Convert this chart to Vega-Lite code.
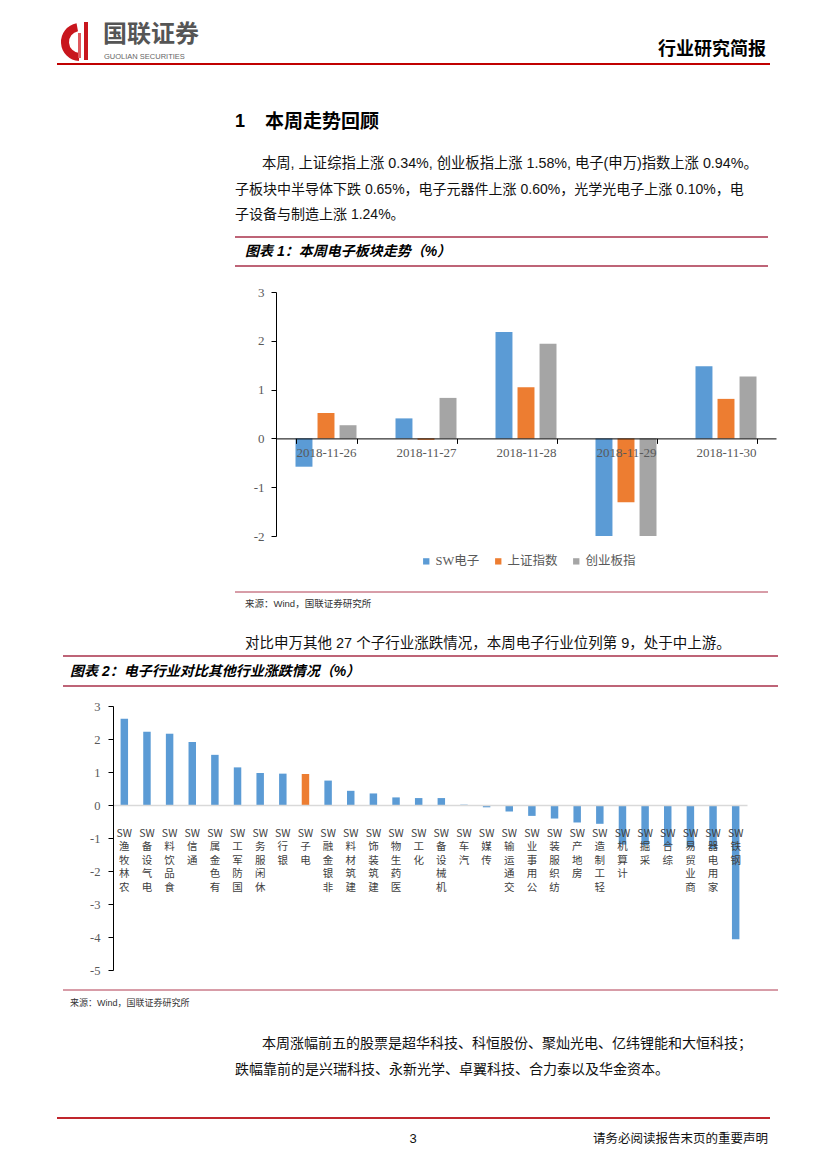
{
  "$schema": "https://vega.github.io/schema/vega-lite/v6.json",
  "padding": 0,
  "background": "white",
  "bounds": "flush",
  "spacing": 0,
  "config": {"view": {"stroke": null}, "axis": {"grid": false}},
  "vconcat": [
    {
      "width": 827, "height": 292,
      "data": {"values": [{"k": 1}]},
      "layer": [
        {"mark": {"type": "rule", "color": "#C00000", "strokeWidth": 2},
         "encoding": {"x": {"datum": 57, "type": "quantitative", "scale": {"domain": [0, 827], "nice": false, "zero": false}, "axis": null}, "x2": {"datum": 770},
                      "y": {"datum": 64, "type": "quantitative", "scale": {"domain": [0, 292], "nice": false, "zero": false, "reverse": true}, "axis": null}}},
        {"mark": {"type": "arc", "radius": 19, "radius2": 11, "theta": 3.2, "theta2": 6.1, "color": "#C8161D"},
         "encoding": {"x": {"datum": 80, "type": "quantitative", "scale": {"domain": [0, 827], "nice": false, "zero": false}, "axis": null},
                      "y": {"datum": 42, "type": "quantitative", "scale": {"domain": [0, 292], "nice": false, "zero": false, "reverse": true}, "axis": null}}},
        {"mark": {"type": "rect", "color": "#C8161D"},
         "encoding": {"x": {"datum": 84, "type": "quantitative", "scale": {"domain": [0, 827], "nice": false, "zero": false}, "axis": null}, "x2": {"datum": 88},
                      "y": {"datum": 22, "type": "quantitative", "scale": {"domain": [0, 292], "nice": false, "zero": false, "reverse": true}, "axis": null}, "y2": {"datum": 60}}},
        {"mark": {"type": "rect", "color": "#E05A5F"},
         "encoding": {"x": {"datum": 78, "type": "quantitative", "scale": {"domain": [0, 827], "nice": false, "zero": false}, "axis": null}, "x2": {"datum": 81},
                      "y": {"datum": 33, "type": "quantitative", "scale": {"domain": [0, 292], "nice": false, "zero": false, "reverse": true}, "axis": null}, "y2": {"datum": 58}}},
        {"data": {"values": [{"t": "国联证券"}]},
         "mark": {"type": "text", "align": "left", "baseline": "middle", "font": "'Noto Sans CJK SC', sans-serif", "fontSize": 24, "fontWeight": "bold", "color": "#555555"},
         "encoding": {"x": {"datum": 103, "type": "quantitative", "scale": {"domain": [0, 827], "nice": false, "zero": false}, "axis": null},
                      "y": {"datum": 35, "type": "quantitative", "scale": {"domain": [0, 292], "nice": false, "zero": false, "reverse": true}, "axis": null}, "text": {"field": "t"}}},
        {"data": {"values": [{"t": "GUOLIAN SECURITIES"}]},
         "mark": {"type": "text", "align": "left", "baseline": "middle", "font": "'Liberation Sans', sans-serif", "fontSize": 7.5, "color": "#666666"},
         "encoding": {"x": {"datum": 104, "type": "quantitative", "scale": {"domain": [0, 827], "nice": false, "zero": false}, "axis": null},
                      "y": {"datum": 57, "type": "quantitative", "scale": {"domain": [0, 292], "nice": false, "zero": false, "reverse": true}, "axis": null}, "text": {"field": "t"}}},
        {"data": {"values": [{"t": "行业研究简报"}]},
         "mark": {"type": "text", "align": "right", "baseline": "middle", "font": "'Noto Sans CJK SC', sans-serif", "fontSize": 18, "fontWeight": "bold", "color": "#000000"},
         "encoding": {"x": {"datum": 766, "type": "quantitative", "scale": {"domain": [0, 827], "nice": false, "zero": false}, "axis": null},
                      "y": {"datum": 50, "type": "quantitative", "scale": {"domain": [0, 292], "nice": false, "zero": false, "reverse": true}, "axis": null}, "text": {"field": "t"}}},
        {"data": {"values": [{"t": "1"}]},
         "mark": {"type": "text", "align": "left", "baseline": "middle", "font": "'Liberation Sans', sans-serif", "fontSize": 18, "fontWeight": "bold", "color": "#000000"},
         "encoding": {"x": {"datum": 235, "type": "quantitative", "scale": {"domain": [0, 827], "nice": false, "zero": false}, "axis": null},
                      "y": {"datum": 122, "type": "quantitative", "scale": {"domain": [0, 292], "nice": false, "zero": false, "reverse": true}, "axis": null}, "text": {"field": "t"}}},
        {"data": {"values": [{"t": "本周走势回顾"}]},
         "mark": {"type": "text", "align": "left", "baseline": "middle", "font": "'Noto Sans CJK SC', sans-serif", "fontSize": 19, "fontWeight": "bold", "color": "#000000"},
         "encoding": {"x": {"datum": 265, "type": "quantitative", "scale": {"domain": [0, 827], "nice": false, "zero": false}, "axis": null},
                      "y": {"datum": 122, "type": "quantitative", "scale": {"domain": [0, 292], "nice": false, "zero": false, "reverse": true}, "axis": null}, "text": {"field": "t"}}},
        {"data": {"values": [{"t": "本周, 上证综指上涨 0.34%, 创业板指上涨 1.58%, 电子(申万)指数上涨 0.94%。"}]},
         "mark": {"type": "text", "align": "left", "baseline": "middle", "font": "'Liberation Sans', 'Noto Sans CJK SC', sans-serif", "fontSize": 14.3, "color": "#111111"},
         "encoding": {"x": {"datum": 262, "type": "quantitative", "scale": {"domain": [0, 827], "nice": false, "zero": false}, "axis": null},
                      "y": {"datum": 164, "type": "quantitative", "scale": {"domain": [0, 292], "nice": false, "zero": false, "reverse": true}, "axis": null}, "text": {"field": "t"}}},
        {"data": {"values": [{"t": "子板块中半导体下跌 0.65%，电子元器件上涨 0.60%，光学光电子上涨 0.10%，电"}]},
         "mark": {"type": "text", "align": "left", "baseline": "middle", "font": "'Liberation Sans', 'Noto Sans CJK SC', sans-serif", "fontSize": 14, "color": "#111111"},
         "encoding": {"x": {"datum": 235, "type": "quantitative", "scale": {"domain": [0, 827], "nice": false, "zero": false}, "axis": null},
                      "y": {"datum": 190, "type": "quantitative", "scale": {"domain": [0, 292], "nice": false, "zero": false, "reverse": true}, "axis": null}, "text": {"field": "t"}}},
        {"data": {"values": [{"t": "子设备与制造上涨 1.24%。"}]},
         "mark": {"type": "text", "align": "left", "baseline": "middle", "font": "'Liberation Sans', 'Noto Sans CJK SC', sans-serif", "fontSize": 14, "color": "#111111"},
         "encoding": {"x": {"datum": 235, "type": "quantitative", "scale": {"domain": [0, 827], "nice": false, "zero": false}, "axis": null},
                      "y": {"datum": 215, "type": "quantitative", "scale": {"domain": [0, 292], "nice": false, "zero": false, "reverse": true}, "axis": null}, "text": {"field": "t"}}},
        {"mark": {"type": "rule", "color": "#A8304A", "strokeWidth": 1.3},
         "encoding": {"x": {"datum": 235, "type": "quantitative", "scale": {"domain": [0, 827], "nice": false, "zero": false}, "axis": null}, "x2": {"datum": 768},
                      "y": {"datum": 237, "type": "quantitative", "scale": {"domain": [0, 292], "nice": false, "zero": false, "reverse": true}, "axis": null}}},
        {"mark": {"type": "rule", "color": "#A8304A", "strokeWidth": 1.3},
         "encoding": {"x": {"datum": 235, "type": "quantitative", "scale": {"domain": [0, 827], "nice": false, "zero": false}, "axis": null}, "x2": {"datum": 768},
                      "y": {"datum": 266, "type": "quantitative", "scale": {"domain": [0, 292], "nice": false, "zero": false, "reverse": true}, "axis": null}}},
        {"data": {"values": [{"t": "图表 1：本周电子板块走势（%）"}]},
         "mark": {"type": "text", "align": "left", "baseline": "middle", "font": "'Liberation Sans', 'Noto Sans CJK SC', sans-serif", "fontSize": 14, "fontWeight": "bold", "fontStyle": "italic", "color": "#000000"},
         "encoding": {"x": {"datum": 245, "type": "quantitative", "scale": {"domain": [0, 827], "nice": false, "zero": false}, "axis": null},
                      "y": {"datum": 252, "type": "quantitative", "scale": {"domain": [0, 292], "nice": false, "zero": false, "reverse": true}, "axis": null}, "text": {"field": "t"}}}
      ]
    },
    {
      "width": 776, "height": 244,
      "data": {"values": [
        {"date": "2018-11-26", "series": "SW电子", "value": -0.58},
        {"date": "2018-11-26", "series": "上证指数", "value": 0.52},
        {"date": "2018-11-26", "series": "创业板指", "value": 0.27},
        {"date": "2018-11-27", "series": "SW电子", "value": 0.41},
        {"date": "2018-11-27", "series": "上证指数", "value": -0.03},
        {"date": "2018-11-27", "series": "创业板指", "value": 0.83},
        {"date": "2018-11-28", "series": "SW电子", "value": 2.18},
        {"date": "2018-11-28", "series": "上证指数", "value": 1.05},
        {"date": "2018-11-28", "series": "创业板指", "value": 1.94},
        {"date": "2018-11-29", "series": "SW电子", "value": -2.5},
        {"date": "2018-11-29", "series": "上证指数", "value": -1.31},
        {"date": "2018-11-29", "series": "创业板指", "value": -2.7},
        {"date": "2018-11-30", "series": "SW电子", "value": 1.48},
        {"date": "2018-11-30", "series": "上证指数", "value": 0.81},
        {"date": "2018-11-30", "series": "创业板指", "value": 1.27}
      ]},
      "mark": {"type": "bar", "clip": true},
      "encoding": {
        "x": {"field": "date", "type": "nominal", "sort": null, "title": null,
              "scale": {"range": [276, 776], "paddingInner": 0.39, "paddingOuter": 0.195},
              "axis": {"orient": "bottom", "offset": -97.6, "labelAngle": 0, "labelFont": "'Liberation Serif', serif", "labelFontSize": 13, "labelColor": "#595959", "labelPadding": 3, "labelBaseline": "top", "tickSize": 5, "tickColor": "#000000", "tickBand": "extent", "domainColor": "#000000", "domainWidth": 1, "zindex": 1}},
        "xOffset": {"field": "series", "type": "nominal", "sort": ["SW电子", "上证指数", "创业板指"], "scale": {"paddingInner": 0.23, "paddingOuter": 0}},
        "y": {"field": "value", "type": "quantitative", "title": null,
              "scale": {"domain": [-2, 3], "nice": false, "zero": false},
              "axis": {"values": [-2, -1, 0, 1, 2, 3], "offset": -276, "labelExpr": "toString(datum.value)", "labelFont": "'Liberation Serif', serif", "labelFontSize": 13, "labelColor": "#595959", "labelPadding": 7, "tickSize": 5, "tickColor": "#000000", "domainColor": "#000000", "grid": false, "zindex": 1}},
        "color": {"field": "series", "type": "nominal", "sort": ["SW电子", "上证指数", "创业板指"],
                  "scale": {"domain": ["SW电子", "上证指数", "创业板指"], "range": ["#5B9BD5", "#ED7D31", "#A5A5A5"]},
                  "legend": {"title": null, "orient": "none", "legendX": 420, "legendY": 555, "direction": "horizontal", "symbolType": "square", "symbolSize": 40, "symbolStrokeWidth": 0, "labelFont": "'Liberation Serif', 'Noto Sans CJK SC', serif", "labelFontSize": 12.5, "labelColor": "#595959", "columnPadding": 12, "labelOffset": 3, "padding": 0}}
      }
    },
    {
      "width": 827, "height": 170,
      "data": {"values": [{"k": 1}]},
      "layer": [
        {"mark": {"type": "rule", "color": "#B03A50", "strokeWidth": 1},
         "encoding": {"x": {"datum": 235, "type": "quantitative", "scale": {"domain": [0, 827], "nice": false, "zero": false}, "axis": null}, "x2": {"datum": 768},
                      "y": {"datum": 592, "type": "quantitative", "scale": {"domain": [536, 706], "nice": false, "zero": false, "reverse": true}, "axis": null}}},
        {"data": {"values": [{"t": "来源：Wind，国联证券研究所"}]},
         "mark": {"type": "text", "align": "left", "baseline": "middle", "font": "'Liberation Sans', 'Noto Sans CJK SC', sans-serif", "fontSize": 9.5, "color": "#333333"},
         "encoding": {"x": {"datum": 245, "type": "quantitative", "scale": {"domain": [0, 827], "nice": false, "zero": false}, "axis": null},
                      "y": {"datum": 604, "type": "quantitative", "scale": {"domain": [536, 706], "nice": false, "zero": false, "reverse": true}, "axis": null}, "text": {"field": "t"}}},
        {"data": {"values": [{"t": "对比申万其他 27 个子行业涨跌情况，本周电子行业位列第 9，处于中上游。"}]},
         "mark": {"type": "text", "align": "left", "baseline": "middle", "font": "'Liberation Sans', 'Noto Sans CJK SC', sans-serif", "fontSize": 14.5, "color": "#111111"},
         "encoding": {"x": {"datum": 245, "type": "quantitative", "scale": {"domain": [0, 827], "nice": false, "zero": false}, "axis": null},
                      "y": {"datum": 644, "type": "quantitative", "scale": {"domain": [536, 706], "nice": false, "zero": false, "reverse": true}, "axis": null}, "text": {"field": "t"}}},
        {"mark": {"type": "rule", "color": "#A8304A", "strokeWidth": 1.3},
         "encoding": {"x": {"datum": 63, "type": "quantitative", "scale": {"domain": [0, 827], "nice": false, "zero": false}, "axis": null}, "x2": {"datum": 778},
                      "y": {"datum": 656, "type": "quantitative", "scale": {"domain": [536, 706], "nice": false, "zero": false, "reverse": true}, "axis": null}}},
        {"mark": {"type": "rule", "color": "#A8304A", "strokeWidth": 1.3},
         "encoding": {"x": {"datum": 63, "type": "quantitative", "scale": {"domain": [0, 827], "nice": false, "zero": false}, "axis": null}, "x2": {"datum": 778},
                      "y": {"datum": 686, "type": "quantitative", "scale": {"domain": [536, 706], "nice": false, "zero": false, "reverse": true}, "axis": null}}},
        {"data": {"values": [{"t": "图表 2：电子行业对比其他行业涨跌情况（%）"}]},
         "mark": {"type": "text", "align": "left", "baseline": "middle", "font": "'Liberation Sans', 'Noto Sans CJK SC', sans-serif", "fontSize": 14, "fontWeight": "bold", "fontStyle": "italic", "color": "#000000"},
         "encoding": {"x": {"datum": 70, "type": "quantitative", "scale": {"domain": [0, 827], "nice": false, "zero": false}, "axis": null},
                      "y": {"datum": 672, "type": "quantitative", "scale": {"domain": [536, 706], "nice": false, "zero": false, "reverse": true}, "axis": null}, "text": {"field": "t"}}}
      ]
    },
    {
      "width": 747, "height": 264,
      "data": {"values": [
        {"name": "农林牧渔SW", "value": 2.61},
        {"name": "电气设备SW", "value": 2.22},
        {"name": "食品饮料SW", "value": 2.16},
        {"name": "通信SW", "value": 1.91},
        {"name": "有色金属SW", "value": 1.52},
        {"name": "国防军工SW", "value": 1.14},
        {"name": "休闲服务SW", "value": 0.97},
        {"name": "银行SW", "value": 0.95},
        {"name": "电子SW", "value": 0.94},
        {"name": "非银金融SW", "value": 0.74},
        {"name": "建筑材料SW", "value": 0.43},
        {"name": "建筑装饰SW", "value": 0.35},
        {"name": "医药生物SW", "value": 0.23},
        {"name": "化工SW", "value": 0.21},
        {"name": "机械设备SW", "value": 0.21},
        {"name": "汽车SW", "value": 0.01},
        {"name": "传媒SW", "value": -0.07},
        {"name": "交通运输SW", "value": -0.2},
        {"name": "公用事业SW", "value": -0.33},
        {"name": "纺织服装SW", "value": -0.41},
        {"name": "房地产SW", "value": -0.53},
        {"name": "轻工制造SW", "value": -0.57},
        {"name": "计算机SW", "value": -1.2},
        {"name": "采掘SW", "value": -1.22},
        {"name": "综合SW", "value": -1.25},
        {"name": "商业贸易SW", "value": -1.28},
        {"name": "家用电器SW", "value": -1.33},
        {"name": "钢铁SW", "value": -4.07}
      ]},
      "mark": {"type": "bar"},
      "encoding": {
        "x": {"field": "name", "type": "nominal", "sort": null, "title": null,
              "scale": {"range": [113, 747], "paddingInner": 0.67, "paddingOuter": 0.335},
              "axis": {"orient": "bottom", "offset": -165, "labelAngle": 0, "labelExpr": "reverse(split(replace(datum.label, regexp('([^SW])', 'g'), '$1|'), '|'))", "labelFont": "'Noto Sans CJK SC', sans-serif", "labelFontSize": 10.5, "labelLineHeight": 13.5, "labelColor": "#404040", "labelPadding": 23, "labelBaseline": "top", "labelAlign": "center", "labelOverlap": false, "labelBound": false, "labelLimit": 0, "ticks": false, "domainColor": "#D9D9D9", "domainWidth": 1.5, "zindex": 1}},
        "y": {"field": "value", "type": "quantitative", "title": null,
              "scale": {"domain": [-5, 3], "nice": false, "zero": false},
              "axis": {"values": [-5, -4, -3, -2, -1, 0, 1, 2, 3], "offset": -113, "labelExpr": "toString(datum.value)", "labelFont": "'Liberation Serif', serif", "labelFontSize": 12.5, "labelColor": "#595959", "labelPadding": 8, "tickSize": 5, "tickColor": "#000000", "domainColor": "#000000", "grid": false, "zindex": 1}},
        "color": {"condition": {"test": "datum.name === '电子SW'", "value": "#ED7D31"}, "value": "#5B9BD5"}
      }
    },
    {
      "width": 827, "height": 199,
      "data": {"values": [{"k": 1}]},
      "layer": [
        {"mark": {"type": "rule", "color": "#B03A50", "strokeWidth": 1},
         "encoding": {"x": {"datum": 63, "type": "quantitative", "scale": {"domain": [0, 827], "nice": false, "zero": false}, "axis": null}, "x2": {"datum": 778},
                      "y": {"datum": 990, "type": "quantitative", "scale": {"domain": [970, 1169], "nice": false, "zero": false, "reverse": true}, "axis": null}}},
        {"data": {"values": [{"t": "来源：Wind，国联证券研究所"}]},
         "mark": {"type": "text", "align": "left", "baseline": "middle", "font": "'Liberation Sans', 'Noto Sans CJK SC', sans-serif", "fontSize": 9, "color": "#333333"},
         "encoding": {"x": {"datum": 70, "type": "quantitative", "scale": {"domain": [0, 827], "nice": false, "zero": false}, "axis": null},
                      "y": {"datum": 1003, "type": "quantitative", "scale": {"domain": [970, 1169], "nice": false, "zero": false, "reverse": true}, "axis": null}, "text": {"field": "t"}}},
        {"data": {"values": [{"t": "本周涨幅前五的股票是超华科技、科恒股份、聚灿光电、亿纬锂能和大恒科技；"}]},
         "mark": {"type": "text", "align": "left", "baseline": "middle", "font": "'Liberation Sans', 'Noto Sans CJK SC', sans-serif", "fontSize": 14, "color": "#111111"},
         "encoding": {"x": {"datum": 262, "type": "quantitative", "scale": {"domain": [0, 827], "nice": false, "zero": false}, "axis": null},
                      "y": {"datum": 1044, "type": "quantitative", "scale": {"domain": [970, 1169], "nice": false, "zero": false, "reverse": true}, "axis": null}, "text": {"field": "t"}}},
        {"data": {"values": [{"t": "跌幅靠前的是兴瑞科技、永新光学、卓翼科技、合力泰以及华金资本。"}]},
         "mark": {"type": "text", "align": "left", "baseline": "middle", "font": "'Liberation Sans', 'Noto Sans CJK SC', sans-serif", "fontSize": 14, "color": "#111111"},
         "encoding": {"x": {"datum": 235, "type": "quantitative", "scale": {"domain": [0, 827], "nice": false, "zero": false}, "axis": null},
                      "y": {"datum": 1070, "type": "quantitative", "scale": {"domain": [970, 1169], "nice": false, "zero": false, "reverse": true}, "axis": null}, "text": {"field": "t"}}},
        {"mark": {"type": "rule", "color": "#C0262D", "strokeWidth": 2},
         "encoding": {"x": {"datum": 57, "type": "quantitative", "scale": {"domain": [0, 827], "nice": false, "zero": false}, "axis": null}, "x2": {"datum": 770},
                      "y": {"datum": 1118, "type": "quantitative", "scale": {"domain": [970, 1169], "nice": false, "zero": false, "reverse": true}, "axis": null}}},
        {"data": {"values": [{"t": "3"}]},
         "mark": {"type": "text", "align": "center", "baseline": "middle", "font": "'Liberation Sans', sans-serif", "fontSize": 13, "color": "#111111"},
         "encoding": {"x": {"datum": 413, "type": "quantitative", "scale": {"domain": [0, 827], "nice": false, "zero": false}, "axis": null},
                      "y": {"datum": 1139, "type": "quantitative", "scale": {"domain": [970, 1169], "nice": false, "zero": false, "reverse": true}, "axis": null}, "text": {"field": "t"}}},
        {"data": {"values": [{"t": "请务必阅读报告末页的重要声明"}]},
         "mark": {"type": "text", "align": "right", "baseline": "middle", "font": "'Noto Sans CJK SC', sans-serif", "fontSize": 12.5, "color": "#111111"},
         "encoding": {"x": {"datum": 768, "type": "quantitative", "scale": {"domain": [0, 827], "nice": false, "zero": false}, "axis": null},
                      "y": {"datum": 1139, "type": "quantitative", "scale": {"domain": [970, 1169], "nice": false, "zero": false, "reverse": true}, "axis": null}, "text": {"field": "t"}}}
      ]
    }
  ]
}
